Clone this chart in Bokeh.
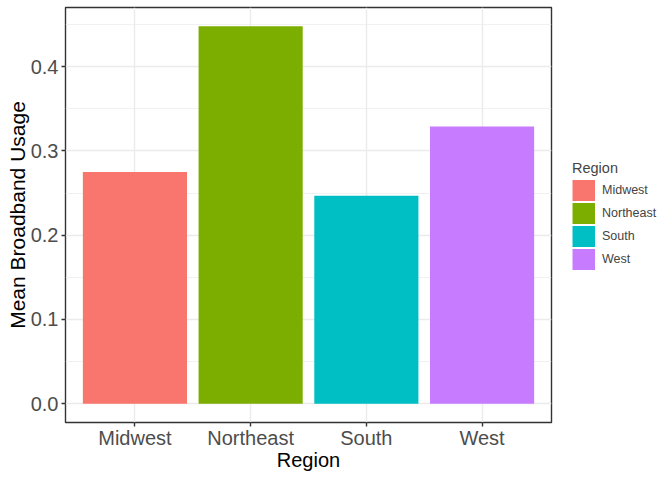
from bokeh.plotting import figure
from bokeh.models import (ColumnDataSource, FactorRange, Range1d, Legend, LegendItem,
                          FixedTicker, PrintfTickFormatter)
from bokeh.embed import file_html
from bokeh.resources import INLINE

regions = ["Midwest", "Northeast", "South", "West"]
mean_usage = [0.275, 0.448, 0.247, 0.329]
colors = ["#F8766D", "#7CAE00", "#00BFC4", "#C77CFF"]
y_ticks = [0.0, 0.1, 0.2, 0.3, 0.4]
y_minor = [0.05, 0.15, 0.25, 0.35, 0.45]

FONT = "Liberation Sans"

src = ColumnDataSource(dict(region=regions, mean=mean_usage, color=colors))

ymax = max(mean_usage)
p = figure(x_range=FactorRange(*regions, range_padding=0.05),
           y_range=Range1d(-0.05 * ymax, ymax * 1.05),
           width=672, height=480, frame_width=486, frame_height=415,
           min_border_left=65, min_border_top=7, min_border_bottom=58, min_border_right=121,
           output_backend="svg", toolbar_location=None)

r = p.vbar(x="region", top="mean", width=0.9, fill_color="color", line_color=None, source=src)

# legend key proxies: single-point lines (draw nothing in the plot) shown as wide solid keys
proxies = [p.line(x=[reg], y=[m], line_color=c, line_width=21, line_cap="butt")
           for reg, m, c in zip(regions, mean_usage, colors)]

p.background_fill_color = "white"
p.border_fill_color = "white"
p.outline_line_color = "#333333"
p.outline_line_width = 1.4

# grids
p.xgrid.grid_line_color = "#EBEBEB"
p.xgrid.grid_line_width = 1.4
p.ygrid.grid_line_color = "#EBEBEB"
p.ygrid.grid_line_width = 1.4
p.ygrid.minor_grid_line_color = "#EBEBEB"
p.ygrid.minor_grid_line_width = 0.7

p.yaxis.ticker = FixedTicker(ticks=y_ticks, minor_ticks=y_minor)
p.yaxis.formatter = PrintfTickFormatter(format="%.1f")

for ax in (p.xaxis[0], p.yaxis[0]):
    ax.axis_line_color = None
    ax.major_tick_line_color = "#333333"
    ax.major_tick_line_width = 1.4
    ax.major_tick_out = 4
    ax.major_tick_in = 0
    ax.minor_tick_line_color = None
    ax.major_label_text_font = FONT
    ax.major_label_text_font_size = "20px"
    ax.major_label_text_color = "#4D4D4D"
    ax.axis_label_text_font = FONT
    ax.axis_label_text_font_size = "20px"
    ax.axis_label_text_font_style = "normal"
    ax.axis_label_text_color = "black"

p.xaxis.axis_label = "Region"
p.yaxis.axis_label = "Mean Broadband Usage"
p.yaxis.axis_label_text_font_size = "21px"
p.xaxis.major_label_standoff = 0
p.xaxis.axis_label_standoff = -3
p.yaxis.major_label_standoff = 3
p.yaxis.axis_label_standoff = -1

items = [LegendItem(label=reg, renderers=[pr]) for reg, pr in zip(regions, proxies)]
legend = Legend(items=items, title="Region", location="center_left",
                title_text_font=FONT, title_text_font_size="14.5px",
                title_text_font_style="normal", title_standoff=3,
                label_text_font=FONT, label_text_font_size="12.5px",
                glyph_width=23, glyph_height=22, label_height=22,
                label_standoff=7, spacing=1, padding=0, margin=21,
                border_line_color=None, background_fill_color=None)
p.add_layout(legend, "right")

open("out.html", "w").write(file_html(p, INLINE))
